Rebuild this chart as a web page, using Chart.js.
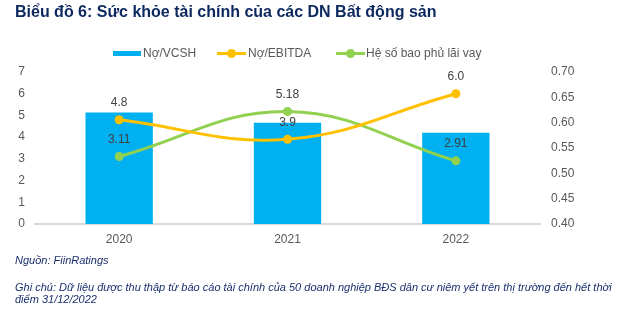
<!DOCTYPE html>
<html lang="vi">
<head>
<meta charset="utf-8">
<script src="https://cdn.jsdelivr.net/npm/chart.js@4/dist/chart.umd.min.js"></script>
<style>
  html, body { margin: 0; padding: 0; background: #fff; }
  body { width: 640px; height: 324px; position: relative; overflow: hidden; font-family: "Liberation Sans", Arial, sans-serif; }
  #wrap { position: absolute; left: 0; top: 0; width: 640px; height: 324px; }
  .title { position: absolute; left: 15px; top: 3px; font-size: 16px; font-weight: bold; color: #0d285f; white-space: nowrap; }
  .legend { position: absolute; top: 45px; left: 0; font-size: 12px; color: #595959; }
  .legend .item { position: absolute; top: 0; height: 16px; line-height: 16px; white-space: nowrap; }
  .legend .swatch { position: absolute; top: 6px; }
  .legend .bar { width: 28px; height: 5px; background: #00b0f0; }
  .legend .line { width: 29px; height: 3px; top: 7px; }
  .legend .line::after { content: ""; position: absolute; left: 10px; top: -3px; width: 9px; height: 9px; border-radius: 50%; background: inherit; }
  .note { position: absolute; left: 15px; font-size: 11px; font-style: italic; color: #1a2f6e; white-space: nowrap; line-height: 12px; }
</style>
</head>
<body>
<div id="wrap"><canvas id="chart" width="640" height="324"></canvas></div>
<div class="title">Biểu đồ 6: Sức khỏe tài chính của các DN Bất động sản</div>
<div class="legend" id="legend"></div>
<div class="note" style="top: 254px;">Nguồn: FiinRatings</div>
<div class="note" style="top: 281px;">Ghi chú: Dữ liệu được thu thập từ báo cáo tài chính của 50 doanh nghiệp BĐS dân cư niêm yết trên thị trường đến hết thời<br>điểm 31/12/2022</div>
<script>
const years = ["2020", "2021", "2022"];
const debtToEquity = [0.62, 0.60, 0.58];
const debtToEbitda = [4.8, 3.9, 6.0];
const interestCoverage = [3.11, 5.18, 2.91];

const leftTicks = [0, 1, 2, 3, 4, 5, 6, 7];
const rightTicks = [0.40, 0.45, 0.50, 0.55, 0.60, 0.65, 0.70];

const colors = {
  bar: "#00b0f0",
  orange: "#ffc000",
  green: "#92d050",
  tick: "#595959",
  label: "#404040",
};

// legend built by hand so the line entries get a dot in the middle
const legendItems = [
  { text: "Nợ/VCSH", type: "bar", x: 113, textX: 143 },
  { text: "Nợ/EBITDA", type: "line", color: colors.orange, x: 217, textX: 248 },
  { text: "Hệ số bao phủ lãi vay", type: "line", color: colors.green, x: 336, textX: 366 },
];
const legendEl = document.getElementById("legend");
legendItems.forEach((item) => {
  const sw = document.createElement("div");
  sw.className = `swatch ${item.type}`;
  sw.style.left = `${item.x}px`;
  if (item.color) sw.style.background = item.color;
  legendEl.appendChild(sw);
  const label = document.createElement("div");
  label.className = "item";
  label.style.left = `${item.textX}px`;
  label.textContent = item.text;
  legendEl.appendChild(label);
});

// value labels: above line points, near the bottom of the bars
const valueLabels = {
  id: "valueLabels",
  afterDatasetsDraw(chart) {
    const ctx = chart.ctx;
    ctx.save();
    ctx.font = "12px 'Liberation Sans', Arial, sans-serif";
    ctx.fillStyle = colors.label;
    ctx.textAlign = "center";
    ctx.textBaseline = "middle";
    chart.data.datasets.forEach((ds, i) => {
      const meta = chart.getDatasetMeta(i);
      meta.data.forEach((el, j) => {
        const text = ds.data[j].toFixed(ds.decimals);
        if (ds.type === "bar") {
          ctx.fillText(text, el.x, el.base - 14);
        } else {
          ctx.fillText(text, el.x, el.y - 17);
        }
      });
    });
    ctx.restore();
  },
};

new Chart(document.getElementById("chart"), {
  data: {
    labels: years,
    datasets: [
      {
        type: "line",
        label: "Nợ/EBITDA",
        data: debtToEbitda,
        decimals: 1,
        yAxisID: "y",
        borderColor: colors.orange,
        backgroundColor: colors.orange,
        borderWidth: 3,
        pointRadius: 4.5,
        pointBorderWidth: 0,
        tension: 0.4,
        order: 1,
      },
      {
        type: "line",
        label: "Hệ số bao phủ lãi vay",
        data: interestCoverage,
        decimals: 2,
        yAxisID: "y",
        borderColor: colors.green,
        backgroundColor: colors.green,
        borderWidth: 3,
        pointRadius: 4.5,
        pointBorderWidth: 0,
        tension: 0.4,
        order: 2,
      },
      {
        type: "bar",
        label: "Nợ/VCSH",
        data: debtToEquity,
        decimals: 2,
        yAxisID: "y1",
        backgroundColor: colors.bar,
        barPercentage: 0.4,
        categoryPercentage: 1,
        order: 3,
      },
    ],
  },
  options: {
    responsive: false,
    animation: false,
    layout: { padding: { top: 72, left: 0, right: 0, bottom: 0 } },
    plugins: {
      legend: { display: false },
      tooltip: { enabled: false },
    },
    scales: {
      x: {
        grid: { display: false, drawTicks: false },
        border: { color: "#d9d9d9", width: 2 },
        ticks: { color: colors.tick, font: { size: 12, family: "'Liberation Sans', Arial, sans-serif" }, padding: 8 },
        afterFit: (scale) => { scale.height = 100; },
      },
      y: {
        position: "left",
        min: 0,
        max: 7,
        afterBuildTicks: (scale) => { scale.ticks = leftTicks.map((v) => ({ value: v })); },
        grid: { display: false, drawTicks: false },
        border: { display: false },
        ticks: { color: colors.tick, font: { size: 12, family: "'Liberation Sans', Arial, sans-serif" }, padding: 10 },
        afterFit: (scale) => { scale.width = 35; },
      },
      y1: {
        position: "right",
        min: 0.4,
        max: 0.7,
        afterBuildTicks: (scale) => { scale.ticks = rightTicks.map((v) => ({ value: v })); },
        grid: { display: false, drawTicks: false },
        border: { display: false },
        ticks: {
          color: colors.tick,
          font: { size: 12, family: "'Liberation Sans', Arial, sans-serif" },
          padding: 11,
          callback: (v) => Number(v).toFixed(2),
        },
        afterFit: (scale) => { scale.width = 100; },
      },
    },
  },
  plugins: [valueLabels],
});
</script>
</body>
</html>
